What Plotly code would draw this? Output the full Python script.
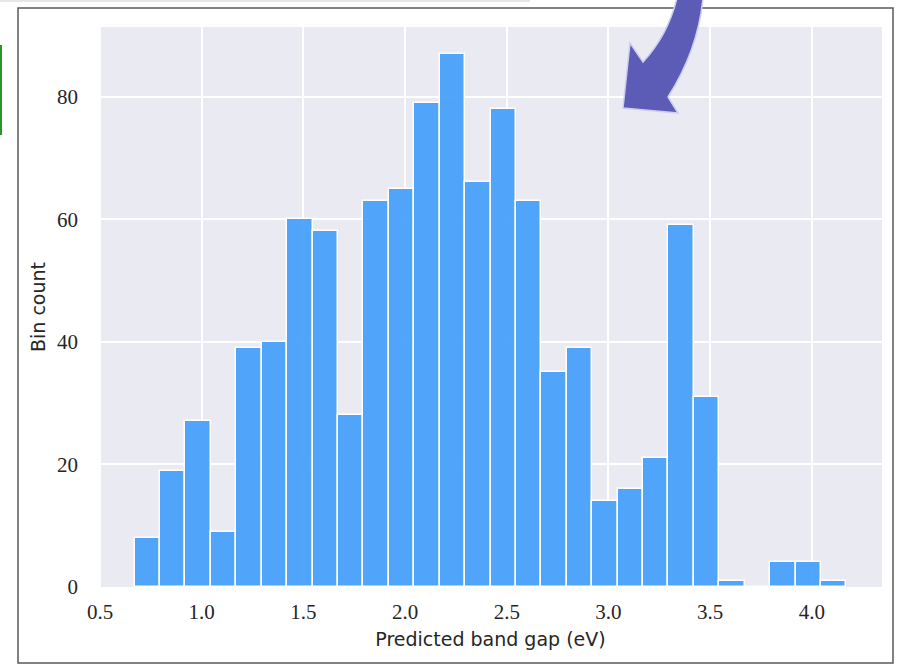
import plotly.graph_objects as go

# Histogram data (bin left edges & counts)
bin_start = 0.67
bin_width = 0.125
counts = [8, 19, 27, 9, 39, 40, 60, 58, 28, 63, 65, 79, 87, 66, 78, 63, 35, 39,
          14, 16, 21, 59, 31, 1, 0, 4, 4, 1]
x_ticks = [0.5, 1.0, 1.5, 2.0, 2.5, 3.0, 3.5, 4.0]
y_ticks = [0, 20, 40, 60, 80]

centers = [bin_start + bin_width * (i + 0.5) for i in range(len(counts))]

W, H = 910, 670
L, R, T, B = 99, 882, 27, 587


def px(X):
    return (X - L) / (R - L)


def py(Y):
    return (B - Y) / (B - T)


fig = go.Figure()
fig.add_trace(go.Bar(
    x=centers, y=counts, width=[bin_width] * len(counts),
    marker=dict(color="rgba(66,157,250,0.92)", line=dict(color="white", width=1.5)),
    showlegend=False,
))

# frame around figure and slide fragments
shapes = [
    dict(type="rect", xref="paper", yref="paper", x0=px(18), x1=px(893), y0=py(663), y1=py(8),
         line=dict(color="#5a5a5a", width=1.5), layer="below"),
    dict(type="line", xref="paper", yref="paper", x0=px(1), x1=px(1), y0=py(45), y1=py(135),
         line=dict(color="rgb(40,150,40)", width=2)),
    dict(type="line", xref="paper", yref="paper", x0=px(0), x1=px(530), y0=py(1), y1=py(1),
         line=dict(color="#dcdcdc", width=1.5)),
]

# decorative curved arrow
path = (f"M {px(677):.4f},{py(-2):.4f} Q {px(668):.4f},{py(35):.4f} {px(643):.4f},{py(62):.4f}"
        f" L {px(630):.4f},{py(43):.4f} L {px(623):.4f},{py(108):.4f} L {px(678):.4f},{py(113):.4f}"
        f" L {px(668):.4f},{py(97):.4f} Q {px(698):.4f},{py(50):.4f} {px(703):.4f},{py(-2):.4f} Z")
shapes.append(dict(type="path", xref="paper", yref="paper", path=path,
                   fillcolor="rgb(92,92,182)", line=dict(color="rgb(205,205,240)", width=1.5),
                   layer="above"))

fig.update_layout(
    width=W, height=H,
    margin=dict(l=L, r=W - R, t=T, b=H - B),
    paper_bgcolor="white",
    plot_bgcolor="#EAEAF2",
    bargap=0,
    shapes=shapes,
    xaxis=dict(range=[0.495, 4.345], tickvals=x_ticks,
               ticktext=[f"{v:.1f}" for v in x_ticks],
               showgrid=True, gridcolor="white", gridwidth=1.5, zeroline=False,
               tickfont=dict(family="Liberation Serif, DejaVu Serif", size=21, color="#262626"),
               ticklabelstandoff=10,
               title=dict(text="Predicted band gap (eV)", standoff=9,
                          font=dict(family="DejaVu Sans", size=19, color="#262626")),
               ticks="", ticklen=0),
    yaxis=dict(range=[0, 91.35], tickvals=y_ticks,
               showgrid=True, gridcolor="white", gridwidth=1.5, zeroline=False,
               tickfont=dict(family="Liberation Serif, DejaVu Serif", size=21, color="#262626"),
               ticklabelstandoff=20,
               title=dict(text="Bin count", standoff=6,
                          font=dict(family="DejaVu Sans", size=19, color="#262626")),
               ticks="", ticklen=0),
)

fig.write_html("out.html", config={"displayModeBar": False},
               post_script="document.body.style.margin='0px';")
